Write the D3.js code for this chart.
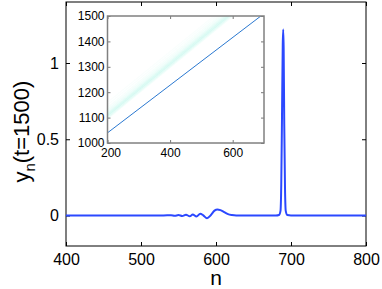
<!DOCTYPE html>
<html>
<head>
<meta charset="utf-8">
<script src="https://cdn.jsdelivr.net/npm/d3@7"></script>
<style>
	body { margin: 0; background: #fff; }
	svg { font-family: "Liberation Sans", Arial, sans-serif; }
	.axis path, .axis line { stroke: #000; }
	.inset .axis path, .inset .axis line { stroke: #777; }
</style>
</head>
<body>
<script>
//Main panel: snapshot of the lattice at t=1500
let nVals = [400, 500, 530, 540, 545, 550, 555, 560, 565, 569, 574, 579, 583, 588, 593, 598, 602, 606, 611, 616, 621, 627, 640, 680, 684, 686, 687, 688, 689, 689.6, 690.2, 691, 692, 693, 695, 700, 800];
let yVals = [0, 0, 0, 0.002, -0.002, 0.003, -0.003, 0.005, -0.005, 0.006, -0.007, 0.012, 0.001, -0.018, 0.002, 0.032, 0.04, 0.035, 0.022, 0.009, 0.003, 0, 0, 0, 0.003, 0.03, 0.2, 0.65, 1.12, 1.22, 1.1, 0.6, 0.18, 0.03, 0.003, 0, 0];
let xTicks = [400, 500, 600, 700, 800];
let yTicks = [0, 0.5, 1];

//Inset: peak trajectories, t against n
let trackN = [200, 690];
let trackT = [1040, 1500];
//faint cyan trajectories: t at n=200 and n where t reaches 1500
let faintStartT = [1095, 1100, 1106, 1112, 1118, 1125, 1132, 1140, 1150, 1160];
let faintEndN = [600, 594, 588, 582, 576, 570, 563, 556, 548, 540];
let faintAlpha = [0.15, 0.3, 0.45, 0.4, 0.3, 0.2, 0.15, 0.1, 0.08, 0.06];
let insetXTicks = [200, 400, 600];
let insetYTicks = [1000, 1100, 1200, 1300, 1400, 1500];

let width = 382;
let height = 289;

let svg = d3.select("body")
	.append("svg")
	.attr("width", width)
	.attr("height", height);

let x = d3.scaleLinear().domain([400, 800]).range([66, 366]);
let y = d3.scaleLinear().domain([-0.2, 1.4]).range([246, 2]);

//frame
svg.append("rect")
	.attr("x", x(400)).attr("y", y(1.4))
	.attr("width", x(800) - x(400)).attr("height", y(-0.2) - y(1.4))
	.attr("fill", "none").attr("stroke", "#000");

let main = svg.append("g").attr("class", "main");

//bottom axis with labels
main.append("g")
	.attr("class", "axis")
	.attr("transform", "translate(0," + y(-0.2) + ")")
	.call(d3.axisBottom(x).tickValues(xTicks).tickSizeInner(-4).tickSizeOuter(0).tickPadding(8))
	.call(g => g.select(".domain").remove())
	.selectAll("text").attr("font-size", 16).attr("fill", "#000").attr("font-family", "Liberation Sans, Arial");

//top axis ticks only
main.append("g")
	.attr("class", "axis")
	.attr("transform", "translate(0," + y(1.4) + ")")
	.call(d3.axisTop(x).tickValues(xTicks).tickSizeInner(-4).tickSizeOuter(0).tickFormat(""))
	.call(g => g.select(".domain").remove());

main.append("g")
	.attr("class", "axis")
	.attr("transform", "translate(" + x(400) + ",0)")
	.call(d3.axisLeft(y).tickValues(yTicks).tickSizeInner(-4).tickSizeOuter(0).tickPadding(7).tickFormat(d3.format("")))
	.call(g => g.select(".domain").remove())
	.selectAll("text").attr("font-size", 16).attr("fill", "#000").attr("font-family", "Liberation Sans, Arial");

main.append("g")
	.attr("class", "axis")
	.attr("transform", "translate(" + x(800) + ",0)")
	.call(d3.axisRight(y).tickValues(yTicks).tickSizeInner(-4).tickSizeOuter(0).tickFormat(""))
	.call(g => g.select(".domain").remove());

//snapshot curve
let line = d3.line()
	.x(function(d){ return x(d[0]); })
	.y(function(d){ return y(d[1]); })
	.curve(d3.curveMonotoneX);

main.append("path")
	.datum(d3.zip(nVals, yVals))
	.attr("fill", "none")
	.attr("stroke", "#2b48ff")
	.attr("stroke-width", 2)
	.attr("d", line);

//axis labels
svg.append("text")
	.attr("x", (x(400) + x(800)) / 2)
	.attr("y", 285)
	.attr("text-anchor", "middle")
	.attr("font-size", 21)
	.text("n");

let yl = svg.append("text")
	.attr("transform", "translate(29," + y(0.55) + ") rotate(-90)")
	.attr("text-anchor", "middle")
	.attr("font-size", 22);
yl.append("tspan").text("y");
yl.append("tspan").attr("font-size", 15).attr("dy", 6).text("n");
yl.append("tspan").attr("dy", -6).text("(t=1500)");

//Inset
let ix = d3.scaleLinear().domain([200, 700]).range([107.5, 264]);
let iy = d3.scaleLinear().domain([1000, 1500]).range([143, 16]);

let inset = svg.append("g").attr("class", "inset");

inset.append("rect")
	.attr("x", ix(200)).attr("y", iy(1500))
	.attr("width", ix(700) - ix(200)).attr("height", iy(1000) - iy(1500))
	.attr("fill", "#fff");

svg.append("clipPath").attr("id", "insetClip")
	.append("rect")
	.attr("x", ix(200)).attr("y", iy(1500))
	.attr("width", ix(700) - ix(200)).attr("height", iy(1000) - iy(1500));

let lines = inset.append("g").attr("clip-path", "url(#insetClip)");

lines.selectAll(".faint")
	.data(d3.range(faintStartT.length))
	.enter()
	.append("line")
	.attr("class", "faint")
	.attr("x1", ix(200))
	.attr("y1", function(i){ return iy(faintStartT[i]); })
	.attr("x2", function(i){ return ix(faintEndN[i]); })
	.attr("y2", iy(1500))
	.attr("stroke", "#a8f5e4")
	.attr("stroke-opacity", function(i){ return faintAlpha[i]; })
	.attr("stroke-width", 1.2);

lines.append("line")
	.attr("x1", ix(trackN[0])).attr("y1", iy(trackT[0]))
	.attr("x2", ix(trackN[1])).attr("y2", iy(trackT[1]))
	.attr("stroke", "#2a78d0")
	.attr("stroke-width", 1);

let insetBottom = inset.append("g")
	.attr("class", "axis")
	.attr("transform", "translate(0," + iy(1000) + ")")
	.call(d3.axisBottom(ix).tickValues(insetXTicks).tickSizeInner(-3).tickSizeOuter(0).tickPadding(5).tickFormat(d3.format("d")))
	.call(g => g.select(".domain").remove());
insetBottom.selectAll("text").attr("font-size", 12).attr("fill", "#000").attr("font-family", "Liberation Sans, Arial");
//first label sits slightly right of its tick, as in the original
insetBottom.selectAll("text").filter(function(d){ return d === 200; }).attr("x", 3);

inset.append("g")
	.attr("class", "axis")
	.attr("transform", "translate(0," + iy(1500) + ")")
	.call(d3.axisTop(ix).tickValues(insetXTicks).tickSizeInner(-3).tickSizeOuter(0).tickFormat(""))
	.call(g => g.select(".domain").remove());

inset.append("g")
	.attr("class", "axis")
	.attr("transform", "translate(" + ix(200) + ",0)")
	.call(d3.axisLeft(iy).tickValues(insetYTicks).tickSizeInner(-3).tickSizeOuter(0).tickPadding(3).tickFormat(d3.format("d")))
	.call(g => g.select(".domain").remove())
	.selectAll("text").attr("font-size", 12).attr("fill", "#000").attr("font-family", "Liberation Sans, Arial");

inset.append("g")
	.attr("class", "axis")
	.attr("transform", "translate(" + ix(700) + ",0)")
	.call(d3.axisRight(iy).tickValues(insetYTicks).tickSizeInner(-3).tickSizeOuter(0).tickFormat(""))
	.call(g => g.select(".domain").remove());

inset.append("rect")
	.attr("x", ix(200)).attr("y", iy(1500))
	.attr("width", ix(700) - ix(200)).attr("height", iy(1000) - iy(1500))
	.attr("fill", "none").attr("stroke", "#808080").attr("stroke-width", 1.5);
</script>
</body>
</html>
